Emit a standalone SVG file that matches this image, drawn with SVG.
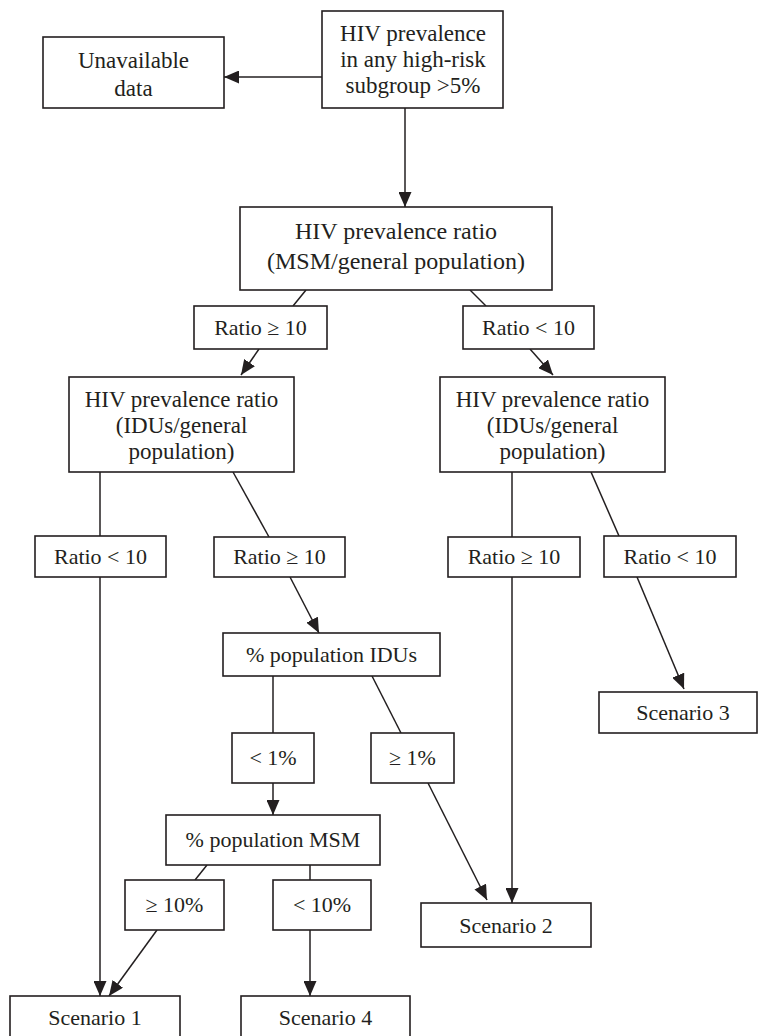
<svg xmlns="http://www.w3.org/2000/svg" width="758" height="1036" viewBox="0 0 758 1036" font-family="'Liberation Serif', 'Times New Roman', serif">
<defs>
<style>
rect.n{fill:#fff;stroke:#231f20;stroke-width:1.6}
text{font-family:'Liberation Serif','Times New Roman',serif;fill:#231f20;text-anchor:middle}
.b{font-size:23px}
.s{font-size:22px}
.c line{stroke:#231f20;stroke-width:1.5}
.c line.a{marker-end:url(#ah)}
</style>
<marker id="ah" markerUnits="userSpaceOnUse" markerWidth="15" markerHeight="13" refX="15" refY="6.5" orient="auto">
<path d="M0,0 L15,6.5 L0,13 z" fill="#231f20"/>
</marker>
</defs>
<rect width="758" height="1036" fill="#fff"/>
<g class="c" id="connectors">
<line class="a" x1="322" y1="77" x2="224" y2="77"/>
<line class="a" x1="405" y1="108" x2="405" y2="207"/>
<line x1="306" y1="290" x2="293" y2="306"/>
<line x1="470" y1="290" x2="486" y2="306"/>
<line class="a" x1="259" y1="349" x2="241" y2="375"/>
<line class="a" x1="530" y1="349" x2="553" y2="375"/>
<line x1="100" y1="472" x2="100" y2="536"/>
<line x1="233" y1="472" x2="269" y2="537"/>
<line x1="512" y1="472" x2="512" y2="537"/>
<line x1="591" y1="472" x2="619" y2="536"/>
<line class="a" x1="637" y1="577" x2="684" y2="689"/>
<line class="a" x1="290" y1="577" x2="319" y2="633"/>
<line x1="273" y1="676" x2="273" y2="733"/>
<line x1="372" y1="676" x2="401" y2="733"/>
<line class="a" x1="273" y1="783" x2="273" y2="815"/>
<line class="a" x1="428" y1="783" x2="487" y2="900"/>
<line class="a" x1="512" y1="577" x2="512" y2="903"/>
<line x1="207" y1="865" x2="195" y2="880"/>
<line x1="310" y1="865" x2="310" y2="880"/>
<line class="a" x1="310" y1="930" x2="310" y2="996"/>
<line class="a" x1="157" y1="930" x2="109" y2="996"/>
<line class="a" x1="100" y1="577" x2="100" y2="996"/>
</g>
<g id="n_top"><rect class="n" x="322" y="11" width="181" height="97"/>
<text class="b" x="413" y="41">HIV prevalence</text><text class="b" x="413" y="67">in any high-risk</text><text class="b" x="413" y="93">subgroup &gt;5%</text></g>
<g id="n_unavail"><rect class="n" x="43" y="37" width="181" height="71"/>
<text class="b" x="133.5" y="68">Unavailable</text><text class="b" x="133.5" y="96">data</text></g>
<g id="n_msm_ratio"><rect class="n" x="240" y="207" width="312" height="83"/>
<text class="b" x="396" y="239" style="font-size:24px">HIV prevalence ratio</text><text class="b" x="396" y="269" style="font-size:24px">(MSM/general population)</text></g>
<g id="n_ge10_a"><rect class="n" x="194" y="306" width="133" height="43"/><text class="s" x="260.5" y="335">Ratio ≥ 10</text></g>
<g id="n_lt10_a"><rect class="n" x="463" y="306" width="131" height="43"/><text class="s" x="528.5" y="335">Ratio &lt; 10</text></g>
<g id="n_idu_left"><rect class="n" x="69" y="377" width="225" height="95"/>
<text class="b" x="181.5" y="407">HIV prevalence ratio</text><text class="b" x="181.5" y="433">(IDUs/general</text><text class="b" x="181.5" y="459">population)</text></g>
<g id="n_idu_right"><rect class="n" x="440" y="377" width="225" height="95"/>
<text class="b" x="552.5" y="407">HIV prevalence ratio</text><text class="b" x="552.5" y="433">(IDUs/general</text><text class="b" x="552.5" y="459">population)</text></g>
<g id="n_lt10_b"><rect class="n" x="35" y="536" width="131" height="41"/><text class="s" x="100.5" y="564">Ratio &lt; 10</text></g>
<g id="n_ge10_b"><rect class="n" x="214" y="537" width="131" height="40"/><text class="s" x="279.5" y="564">Ratio ≥ 10</text></g>
<g id="n_ge10_c"><rect class="n" x="448" y="537" width="132" height="40"/><text class="s" x="514" y="564">Ratio ≥ 10</text></g>
<g id="n_lt10_c"><rect class="n" x="604" y="536" width="132" height="41"/><text class="s" x="670" y="564">Ratio &lt; 10</text></g>
<g id="n_sc3"><rect class="n" x="599" y="692" width="158" height="41"/><text class="s" x="683" y="720">Scenario 3</text></g>
<g id="n_pop_idu"><rect class="n" x="223" y="633" width="217" height="43"/><text class="s" x="331.5" y="662">% population IDUs</text></g>
<g id="n_lt1"><rect class="n" x="232" y="733" width="82" height="50"/><text class="s" x="273" y="765">&lt; 1%</text></g>
<g id="n_ge1"><rect class="n" x="371" y="733" width="83" height="50"/><text class="s" x="412.5" y="765">≥ 1%</text></g>
<g id="n_pop_msm"><rect class="n" x="166" y="815" width="214" height="50"/><text class="s" x="273" y="847">% population MSM</text></g>
<g id="n_ge10p"><rect class="n" x="125" y="880" width="99" height="50"/><text class="s" x="174.5" y="912">≥ 10%</text></g>
<g id="n_lt10p"><rect class="n" x="273" y="880" width="98" height="50"/><text class="s" x="322" y="912">&lt; 10%</text></g>
<g id="n_sc2"><rect class="n" x="421" y="903" width="170" height="44"/><text class="s" x="506" y="933">Scenario 2</text></g>
<g id="n_sc1"><rect class="n" x="10" y="996" width="170" height="50"/><text class="s" x="95" y="1025">Scenario 1</text></g>
<g id="n_sc4"><rect class="n" x="241" y="996" width="169" height="50"/><text class="s" x="325.5" y="1025">Scenario 4</text></g>
</svg>
